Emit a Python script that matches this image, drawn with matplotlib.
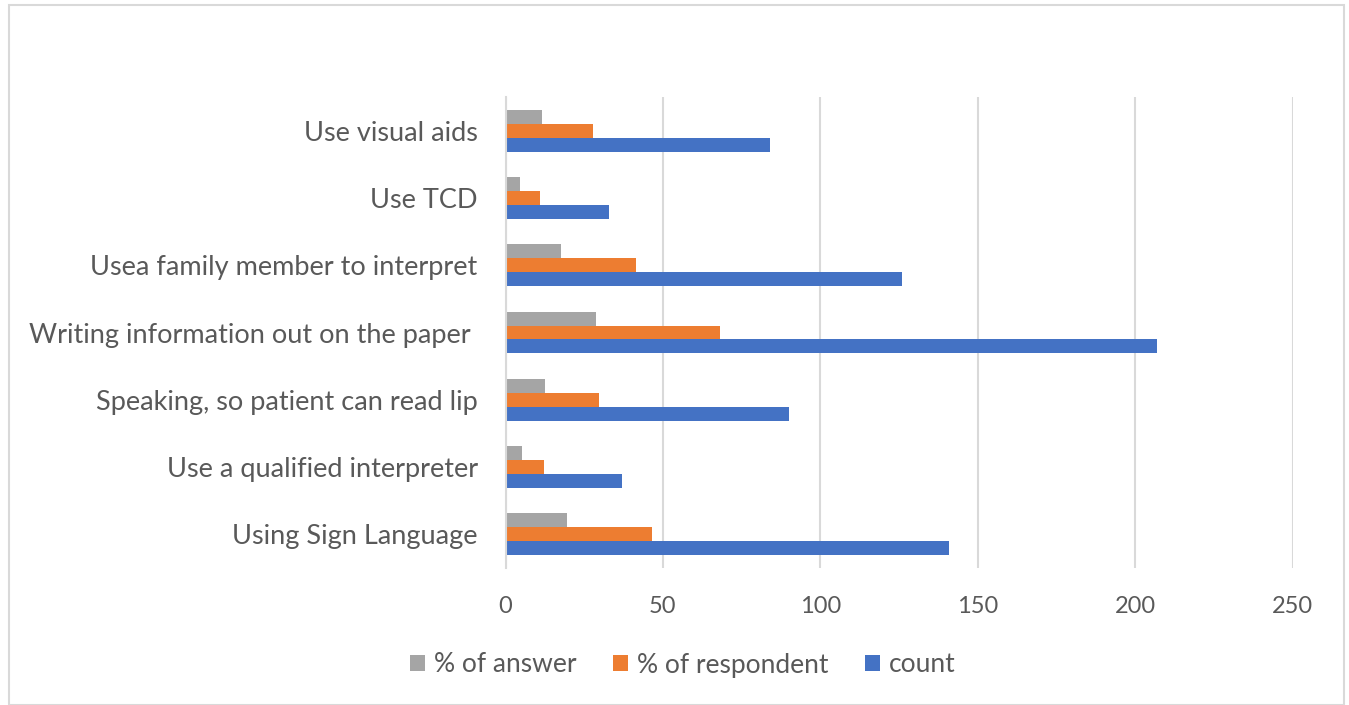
import numpy as np
import matplotlib
matplotlib.use('Agg')
from matplotlib import pyplot as plt
from matplotlib.patches import Rectangle

# categories, bottom to top as drawn
categories = [
    'Using Sign Language',
    'Use a qualified interpreter',
    'Speaking, so patient can read lip',
    'Writing information out on the paper ',
    'Usea family member to interpret',
    'Use TCD',
    'Use visual aids',
]
# series values
count = [141, 37, 90, 207, 126, 33, 84]
pct_respondent = [46.5, 12.2, 29.7, 68.2, 41.5, 10.9, 27.7]
pct_answer = [19.6, 5.2, 12.5, 28.8, 17.5, 4.6, 11.7]

series_names = ['% of answer', '% of respondent', 'count']
xticks = [0, 50, 100, 150, 200, 250]

plt.rcParams['font.family'] = ['Lato', 'DejaVu Sans']
text_color = '#595959'

fig = plt.figure(figsize=(13.49, 7.05), dpi=100)
ax = fig.add_axes([505.5 / 1349, 1 - 568 / 705, 787 / 1349, 471 / 705])

y = np.arange(len(categories))
h = 0.208
ax.barh(y + h, pct_answer, height=h, color='#a5a5a5', label=series_names[0], zorder=3)
ax.barh(y, pct_respondent, height=h, color='#ed7d31', label=series_names[1], zorder=3)
ax.barh(y - h, count, height=h, color='#4472c4', label=series_names[2], zorder=3)

ax.set_xlim(0, 250)
ax.set_ylim(-0.5, len(categories) - 0.5)
ax.set_xticks(xticks)
ax.set_xticklabels([str(t) for t in xticks])
ax.set_yticks(y)
ax.set_yticklabels(categories)
ax.tick_params(axis='x', length=0, pad=20, labelsize=17, labelcolor=text_color)
ax.tick_params(axis='y', length=0, pad=20, labelsize=19.5, labelcolor=text_color)
ax.grid(axis='x', color='#d9d9d9', linewidth=1.5, zorder=0)
for side in ['top', 'right', 'bottom']:
    ax.spines[side].set_visible(False)
ax.spines['left'].set_color('#d9d9d9')
ax.spines['left'].set_linewidth(1.5)
ax.spines['left'].set_zorder(4)

fig.legend(loc='center', bbox_to_anchor=(683 / 1349, 1 - 665 / 705), ncol=3,
           frameon=False, fontsize=19, labelcolor=text_color,
           handlelength=0.55, handleheight=0.55, handletextpad=0.35, columnspacing=1.4)

# light frame round the chart area
fig.patches.append(Rectangle((9 / 1349, 0), 1335 / 1349, 1 - 5 / 705,
                             transform=fig.transFigure, fill=False,
                             edgecolor='#d9d9d9', linewidth=1.5))

fig.savefig('out.png', dpi=100)
